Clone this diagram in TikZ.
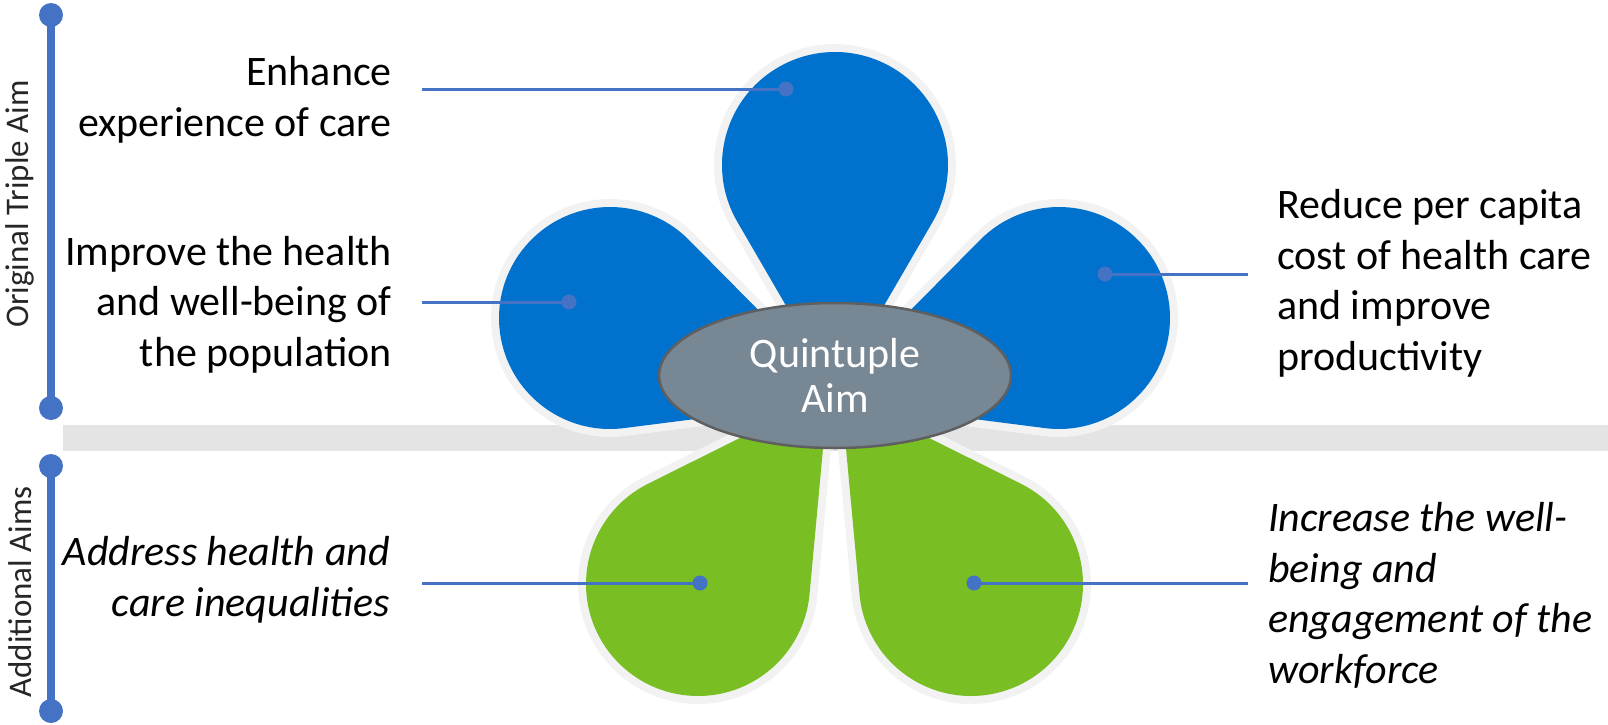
\documentclass[tikz,border=0pt]{standalone}
\usepackage{fontspec}
\setmainfont{Carlito}
\usetikzlibrary{calc,shapes.geometric}

\definecolor{petalblue}{RGB}{0,114,206}
\definecolor{petalgreen}{RGB}{121,190,34}
\definecolor{rim}{RGB}{242,242,242}
\definecolor{bandgrey}{RGB}{228,228,228}
\definecolor{linkblue}{RGB}{68,114,196}
\definecolor{hubfill}{RGB}{120,135,148}
\definecolor{hubedge}{RGB}{95,95,95}

% teardrop petal: centre (#1,#2) of the round end, radius #3,
% tip at distance #4 in direction #5 (degrees, y pointing down), colour #6
\newcommand\petal[6]{%
  \pgfmathsetmacro\petalA{#5+acos(#3/#4)}%
  \pgfmathsetmacro\petalB{#5+360-acos(#3/#4)}%
  \path[fill=#6, preaction={draw=rim, line width=16, line join=round}]
    ($(#1,#2)+(\petalA:#3)$) arc[start angle=\petalA, end angle=\petalB, radius=#3]
    -- ($(#1,#2)+(#5:#4)$) -- cycle;
}

\tikzset{
  txt/.style={font=\fontsize{42}{50.5}\selectfont, text=black, inner sep=0},
  % multi-line labels are placed by the baseline of their last line
  lefttxt/.style={txt, align=right, anchor=base east},
  righttxt/.style={txt, align=left, anchor=base west},
  sidetxt/.style={font=\fontsize{33}{38}\selectfont, text=black!85, inner sep=0, rotate=90},
  link/.style={draw=linkblue, line width=3},
  knob/.style={circle, fill=linkblue, minimum size=15, inner sep=0},
  barknob/.style={circle, fill=linkblue, minimum size=24, inner sep=0},
  bar/.style={draw=linkblue, line width=8},
}

\begin{document}
\begin{tikzpicture}[x=1pt, y=-1pt]
\useasboundingbox (0,0) rectangle (1608,725);

% grey divider band
\fill[bandgrey] (63,425) rectangle (1608,451);

% side brackets
\node[barknob] (b1) at (51,15) {};
\node[barknob] (b2) at (51,408) {};
\node[barknob] (b3) at (51,466) {};
\node[barknob] (b4) at (51,711) {};
\draw[bar] (b1.center) -- (b2.center);
\draw[bar] (b3.center) -- (b4.center);
\node[sidetxt] (s1) at (20,204) {Original Triple Aim};
\node[sidetxt] (s2) at (20,592) {Additional Aims};

% petals
\petal{698}{584}{112}{230.2}{-55.6}{petalgreen}
\petal{971}{584}{112}{230.2}{235.6}{petalgreen}
\petal{610}{318}{111}{250.6}{19}{petalblue}
\petal{1059}{318}{111}{250.6}{161}{petalblue}
\petal{835}{165}{113}{225}{90}{petalblue}

% connector dots on the petals
\node[knob] (d1) at (786,89) {};
\node[knob] (d2) at (569,302) {};
\node[knob] (d3) at (1105,274) {};
\node[knob] (d4) at (700,583) {};
\node[knob] (d5) at (974,583) {};

\coordinate (e1) at (422,89);
\coordinate (e2) at (422,302);
\coordinate (e3) at (1248,274);
\coordinate (e4) at (422,583);
\coordinate (e5) at (1248,583);

\draw[link] (e1) -- (d1.center);
\draw[link] (e2) -- (d2.center);
\draw[link] (d3.center) -- (e3);
\draw[link] (e4) -- (d4.center);
\draw[link] (d5.center) -- (e5);

% centre
\node[ellipse, fill=hubfill, draw=hubedge, line width=2.5,
      minimum width=352, minimum height=145, inner sep=0,
      font=\fontsize{42}{45}\selectfont, text=white, align=center]
  (hub) at (835,375.5) {Quintuple\\Aim};

% labels
\node[lefttxt] (t1) at (392,136) {Enhance\\experience of care};
\node[lefttxt] (t2) at (392,366) {Improve the health\\and well-being of\\the population};
\node[lefttxt] (t4) at (390,616) {\itshape Address health and\\\itshape care inequalities};
\node[righttxt] (t3) at (1277,370) {Reduce per capita\\cost of health care\\and improve\\productivity};
\node[righttxt] (t5) at (1268,683) {\itshape Increase the well-\\\itshape being and\\\itshape engagement of the\\\itshape workforce};
\end{tikzpicture}
\end{document}
